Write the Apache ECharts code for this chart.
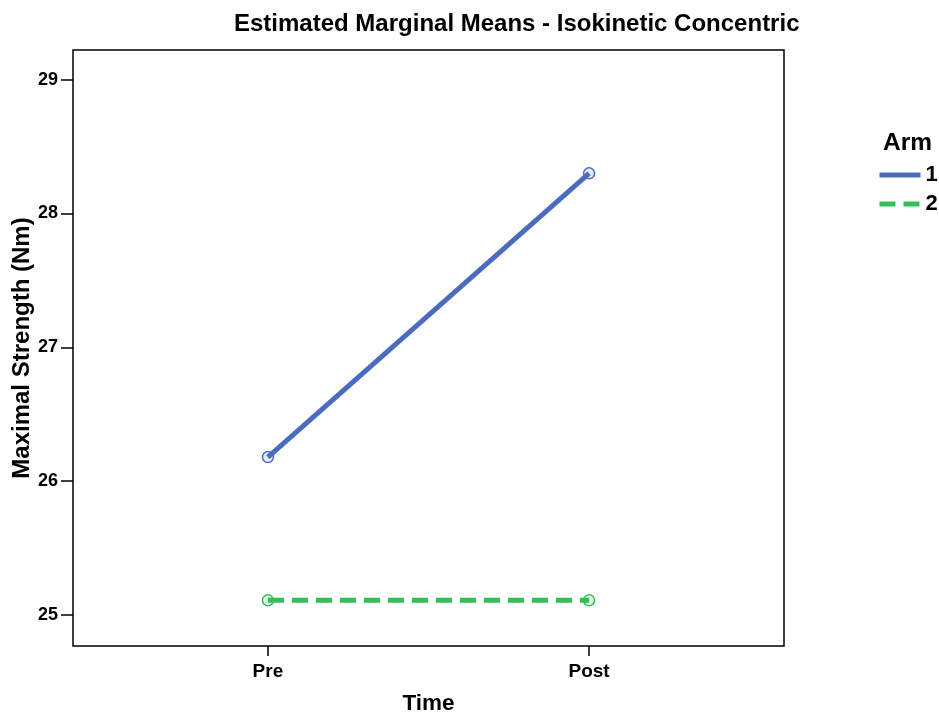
<!DOCTYPE html>
<html><head><meta charset="utf-8">
<script src="https://cdn.jsdelivr.net/npm/echarts@6/dist/echarts.min.js"></script>
<style>html,body{margin:0;padding:0;background:#fff}#c{width:939px;height:712px}</style>
</head><body><div id="c"></div>
<script>
var categories = ['Pre', 'Post'];
var arm1 = [26.18, 28.30];
var arm2 = [25.11, 25.11];
var yTicks = [25, 26, 27, 28, 29];
var seriesNames = ['1', '2'];

var F = '"Liberation Sans", Arial, sans-serif';
var chart = echarts.init(document.getElementById('c'));
function pts(arr){ return arr.map(function(v,i){ return [i+1, v]; }); }
chart.setOption({
  animation: false,
  backgroundColor: '#fff',
  title: {text: 'Estimated Marginal Means - Isokinetic Concentric', left: 229, top: 7,
    textStyle: {fontFamily: F, fontWeight: 'bold', fontSize: 24, color: '#000'}},
  grid: {left: 73, right: 155, top: 50, bottom: 66, show: true, borderColor: '#000', borderWidth: 1.5,
    containLabel: false, outerBoundsMode: 'none'},
  legend: {orient: 'vertical', left: 872, top: 159, itemWidth: 41, itemHeight: 12, itemGap: 7,
    itemStyle: {opacity: 0},
    lineStyle: {width: 5},
    textStyle: {fontFamily: F, fontWeight: 'bold', fontSize: 22, color: '#000', padding: [0,0,0,0]},
    data: seriesNames},
  graphic: [{type: 'text', left: 883, top: 131, style: {text: 'Arm', font: 'bold 24.5px ' + F, fill: '#000'}}],
  xAxis: {type: 'value', min: 0.393, max: 2.607,
    name: 'Time', nameLocation: 'middle', nameGap: 46,
    nameTextStyle: {fontFamily: F, fontWeight: 'bold', fontSize: 22.5, color: '#000'},
    axisLine: {show: false}, splitLine: {show: false},
    axisTick: {show: true, customValues: [1, 2], length: 10, lineStyle: {color: '#000', width: 1.5}},
    axisLabel: {customValues: [1, 2], margin: 16, fontFamily: F, fontWeight: 'bold', fontSize: 19, color: '#000',
      formatter: function(v){ return categories[Math.round(v)-1] || ''; }}},
  yAxis: {type: 'value', min: 24.769, max: 29.221,
    name: 'Maximal Strength (Nm)', nameLocation: 'middle', nameGap: 39, nameMoveOverlap: false,
    nameTextStyle: {fontFamily: F, fontWeight: 'bold', fontSize: 24, color: '#000'},
    axisLine: {show: false}, splitLine: {show: false},
    axisTick: {show: true, customValues: yTicks, length: 12, lineStyle: {color: '#000', width: 1.5}},
    axisLabel: {customValues: yTicks, margin: 15, fontFamily: F, fontWeight: 'bold', fontSize: 18, color: '#000'}},
  series: [
    {name: seriesNames[0], type: 'line', data: pts(arm1), symbol: 'circle', symbolSize: 11,
      lineStyle: {color: '#4a6bbf', width: 5},
      itemStyle: {color: 'rgba(74,107,191,0.15)', borderColor: '#4a6bbf', borderWidth: 1.5}},
    {name: seriesNames[1], type: 'line', data: pts(arm2), symbol: 'circle', symbolSize: 11,
      lineStyle: {color: '#33bf55', width: 5, type: [16, 8]},
      itemStyle: {color: 'rgba(51,191,85,0.15)', borderColor: '#33bf55', borderWidth: 1.5}}
  ]
});
</script></body></html>
